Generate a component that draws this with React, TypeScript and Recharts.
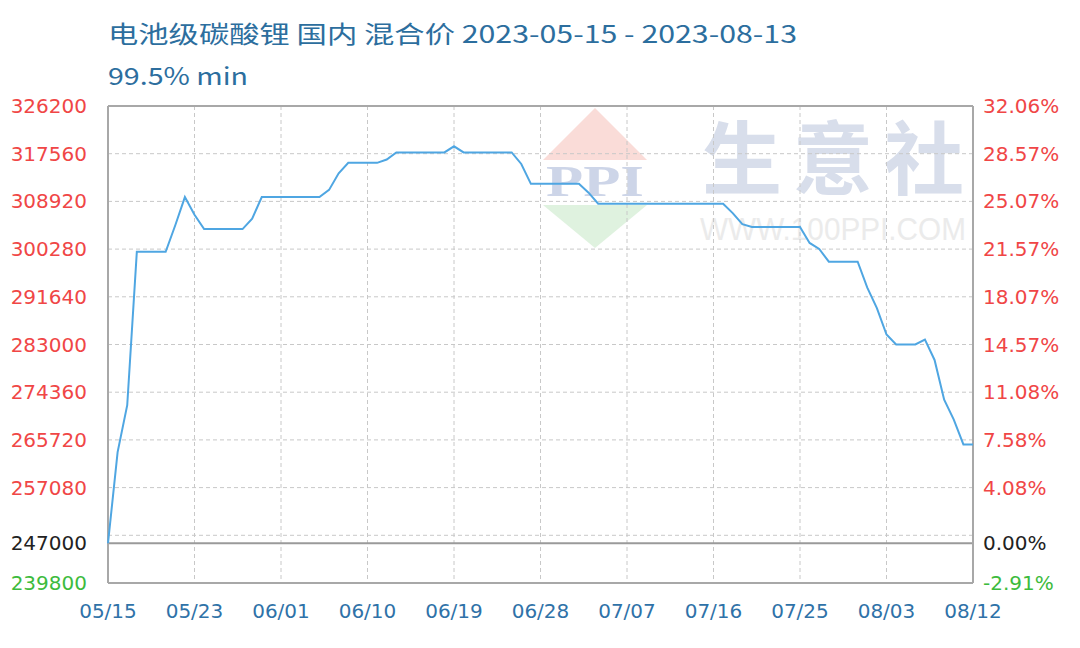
import { LineChart, Line, XAxis, YAxis, CartesianGrid, ReferenceLine } from 'recharts'

// 电池级碳酸锂 daily mixed price, one value per day (index 0..90)
const prices = [
	247000, 263500, 272000, 299800, 299800, 299800, 299800, 304600, 309700, 306500,
	303900, 303900, 303900, 303900, 303900, 305800, 309700, 309700, 309700, 309700,
	309700, 309700, 309700, 311000, 314000, 315900, 315900, 315900, 315900, 316500,
	317800, 317800, 317800, 317800, 317800, 317800, 318900, 317800, 317800, 317800,
	317800, 317800, 317800, 315700, 312100, 312100, 312100, 312100, 312100, 312100,
	310500, 308500, 308500, 308500, 308500, 308500, 308500, 308500, 308500, 308500,
	308500, 308500, 308500, 308500, 308500, 306800, 304800, 304300, 304300, 304300,
	304300, 304300, 304300, 301400, 300300, 298000, 298000, 298000, 298000, 293300,
	289600, 284800, 283000, 283000, 283000, 283900, 280200, 273000, 269400, 264900,
	264900,
]

const tickIdx = [0, 9, 18, 27, 36, 45, 54, 63, 72, 81, 90]
const tickLabels = ['05/15', '05/23', '06/01', '06/10', '06/19', '06/28', '07/07', '07/16', '07/25', '08/03', '08/12']

const base = 247000
const yMin = 239800
const yMax = 326200
const yTicks = [326200, 317560, 308920, 300280, 291640, 283000, 274360, 265720, 257080, 247000, 239800]
const gridValues = [317560, 308920, 300280, 291640, 283000, 274360, 265720, 257080, 248440]

const data = prices.map((price, i) => ({ i, price }))

const RED = '#F04646'
const GREEN = '#3DBB3D'
const tickColor = (v: number) => (v === base ? '#222' : v < base ? GREEN : RED)
const pct = (v: number) => (((v - base) / base) * 100).toFixed(2) + '%'

const LeftTick = (props: any) => {
	const { x, y, payload } = props
	return (
		<text x={x - 13} y={y} dy={7} textAnchor='end' fill={tickColor(payload.value)} fontSize={20} fontFamily='DejaVu Sans'>
			{payload.value}
		</text>
	)
}

const RightTick = (props: any) => {
	const { x, y, payload } = props
	return (
		<text x={x + 2} y={y} dy={7} textAnchor='start' fill={tickColor(payload.value)} fontSize={20} fontFamily='DejaVu Sans'>
			{pct(payload.value)}
		</text>
	)
}

const BottomTick = (props: any) => {
	const { x, y, payload } = props
	const k = tickIdx.indexOf(payload.value)
	return (
		<text x={x} y={y} dy={27} textAnchor='middle' fill='#2F72A8' fontSize={20} fontFamily='DejaVu Sans'>
			{tickLabels[k]}
		</text>
	)
}

const Watermark = () => (
	<svg width={1080} height={648} style={{ position: 'absolute', left: 0, top: 0 }}>
		<polygon points='543,160 595,108 647,160' fill='#FADCD8' />
		<text x={546} y={196} fontSize={44} fontWeight='bold' fontFamily='Liberation Serif' fill='#CDD5E8' textLength={98} lengthAdjust='spacingAndGlyphs'>
			PPI
		</text>
		<polygon points='543,205 595,248 647,205' fill='#DFF2DF' />
		<text x={702} y={188} fontSize={80} fontWeight='bold' fontFamily='Noto Sans CJK SC' fill='#D8DEEB' textLength={262} lengthAdjust='spacing'>
			生意社
		</text>
		<text x={700} y={240} fontSize={31} fontFamily='Liberation Sans' fill='#EBEBEB' textLength={266} lengthAdjust='spacingAndGlyphs'>
			WWW.100PPI.COM
		</text>
	</svg>
)

export default function App() {
	return (
		<div style={{ position: 'absolute', left: 0, top: 0, width: 1080, height: 648, background: '#fff' }}>
			<Watermark />
			<div style={{ position: 'absolute', left: 0, top: 0 }}>
				<LineChart width={1080} height={648} data={data} margin={{ top: 106, right: 0, left: 0, bottom: 25 }}>
					<text x={108} y={43} fontSize={24} fontFamily='Noto Sans CJK SC' fill='#2C6E9E' textLength={689} lengthAdjust='spacingAndGlyphs'>
						电池级碳酸锂 国内 混合价 2023-05-15 - 2023-08-13
					</text>
					<text x={108} y={85} fontSize={24} fontFamily='Noto Sans CJK SC' fill='#2C6E9E' textLength={140} lengthAdjust='spacingAndGlyphs'>
						99.5% min
					</text>
					<CartesianGrid
						yAxisId='left'
						stroke='#C8C8C8'
						strokeDasharray='4 3'
						horizontalValues={gridValues}
						verticalValues={tickIdx.slice(1, -1)}
					/>
					<XAxis
						dataKey='i'
						type='number'
						domain={[0, 90]}
						ticks={tickIdx}
						tick={<BottomTick />}
						tickLine={false}
						axisLine={false}
						height={40}
						interval={0}
					/>
					<YAxis
						yAxisId='left'
						domain={[yMin, yMax]}
						ticks={yTicks}
						tick={<LeftTick />}
						tickLine={false}
						axisLine={false}
						width={108}
						interval={0}
					/>
					<YAxis
						yAxisId='right'
						orientation='right'
						domain={[yMin, yMax]}
						ticks={yTicks}
						tick={<RightTick />}
						tickLine={false}
						axisLine={false}
						width={107}
						interval={0}
					/>
					<ReferenceLine yAxisId='left' y={base} stroke='#9A9A9A' strokeWidth={2} />
					<ReferenceLine yAxisId='left' y={yMax} stroke='#A8A8A8' strokeWidth={2} />
					<ReferenceLine yAxisId='left' y={yMin} stroke='#A8A8A8' strokeWidth={2} />
					<ReferenceLine yAxisId='left' x={0} stroke='#A8A8A8' strokeWidth={2} />
					<ReferenceLine yAxisId='left' x={90} stroke='#A8A8A8' strokeWidth={2} />
					<Line
						yAxisId='left'
						type='linear'
						dataKey='price'
						stroke='#4FA6E2'
						strokeWidth={2}
						dot={false}
						isAnimationActive={false}
					/>
					<Line yAxisId='right' type='linear' dataKey='price' stroke='none' dot={false} isAnimationActive={false} legendType='none' />
				</LineChart>
			</div>
		</div>
	)
}
